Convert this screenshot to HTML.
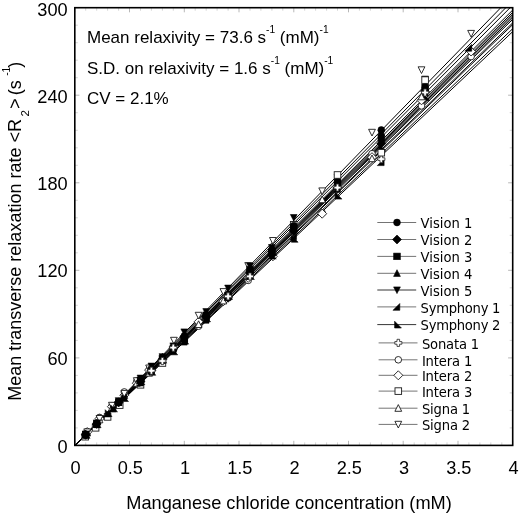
<!DOCTYPE html>
<html lang="en"><head><meta charset="utf-8"><title>Relaxation rate vs concentration</title>
<style>
html,body{margin:0;padding:0;background:#fff;}
body{width:520px;height:515px;overflow:hidden;}
svg{display:block;}
text{font-family:"Liberation Sans",Arial,Helvetica,sans-serif;fill:#000;}
.tk{font-size:18.2px;}
.ti{font-size:18.2px;}
.ty{font-size:18px;}
.an{font-size:17px;}
.lg{font-family:"DejaVu Sans Condensed","DejaVu Sans","Liberation Sans",sans-serif;font-size:14.6px;}
</style></head><body>
<svg width="520" height="515" viewBox="0 0 520 515">
<rect width="520" height="515" fill="#fff"/>
<defs><clipPath id="cp"><rect x="74.8" y="7.7" width="437.90000000000003" height="437.7"/></clipPath></defs>
<path d="M74.8,445.4v-4.6M74.8,7.7v4.6M129.5,445.4v-4.6M129.5,7.7v4.6M184.3,445.4v-4.6M184.3,7.7v4.6M239.0,445.4v-4.6M239.0,7.7v4.6M293.8,445.4v-4.6M293.8,7.7v4.6M348.5,445.4v-4.6M348.5,7.7v4.6M403.2,445.4v-4.6M403.2,7.7v4.6M458.0,445.4v-4.6M458.0,7.7v4.6M512.7,445.4v-4.6M512.7,7.7v4.6M74.8,445.4h4.6M512.7,445.4h-4.6M74.8,357.9h4.6M512.7,357.9h-4.6M74.8,270.3h4.6M512.7,270.3h-4.6M74.8,182.8h4.6M512.7,182.8h-4.6M74.8,95.2h4.6M512.7,95.2h-4.6M74.8,7.7h4.6M512.7,7.7h-4.6" stroke="#888" stroke-width="0.6" fill="none"/>
<path d="M85.7,445.4v-3M85.7,7.7v3M96.7,445.4v-3M96.7,7.7v3M107.6,445.4v-3M107.6,7.7v3M118.6,445.4v-3M118.6,7.7v3M140.5,445.4v-3M140.5,7.7v3M151.4,445.4v-3M151.4,7.7v3M162.4,445.4v-3M162.4,7.7v3M173.3,445.4v-3M173.3,7.7v3M195.2,445.4v-3M195.2,7.7v3M206.2,445.4v-3M206.2,7.7v3M217.1,445.4v-3M217.1,7.7v3M228.1,445.4v-3M228.1,7.7v3M250.0,445.4v-3M250.0,7.7v3M260.9,445.4v-3M260.9,7.7v3M271.9,445.4v-3M271.9,7.7v3M282.8,445.4v-3M282.8,7.7v3M304.7,445.4v-3M304.7,7.7v3M315.6,445.4v-3M315.6,7.7v3M326.6,445.4v-3M326.6,7.7v3M337.5,445.4v-3M337.5,7.7v3M359.4,445.4v-3M359.4,7.7v3M370.4,445.4v-3M370.4,7.7v3M381.3,445.4v-3M381.3,7.7v3M392.3,445.4v-3M392.3,7.7v3M414.2,445.4v-3M414.2,7.7v3M425.1,445.4v-3M425.1,7.7v3M436.1,445.4v-3M436.1,7.7v3M447.0,445.4v-3M447.0,7.7v3M468.9,445.4v-3M468.9,7.7v3M479.9,445.4v-3M479.9,7.7v3M490.8,445.4v-3M490.8,7.7v3M501.8,445.4v-3M501.8,7.7v3M74.8,427.9h3M512.7,427.9h-3M74.8,410.4h3M512.7,410.4h-3M74.8,392.9h3M512.7,392.9h-3M74.8,375.4h3M512.7,375.4h-3M74.8,340.4h3M512.7,340.4h-3M74.8,322.8h3M512.7,322.8h-3M74.8,305.3h3M512.7,305.3h-3M74.8,287.8h3M512.7,287.8h-3M74.8,252.8h3M512.7,252.8h-3M74.8,235.3h3M512.7,235.3h-3M74.8,217.8h3M512.7,217.8h-3M74.8,200.3h3M512.7,200.3h-3M74.8,165.3h3M512.7,165.3h-3M74.8,147.8h3M512.7,147.8h-3M74.8,130.3h3M512.7,130.3h-3M74.8,112.7h3M512.7,112.7h-3M74.8,77.7h3M512.7,77.7h-3M74.8,60.2h3M512.7,60.2h-3M74.8,42.7h3M512.7,42.7h-3M74.8,25.2h3M512.7,25.2h-3" stroke="#aaa" stroke-width="0.5" fill="none"/>
<g clip-path="url(#cp)">
<line x1="74.80" y1="445.40" x2="534.60" y2="-9.28" stroke="#000" stroke-width="1"/>
<line x1="74.80" y1="445.40" x2="534.60" y2="-5.61" stroke="#000" stroke-width="1"/>
<line x1="74.80" y1="445.40" x2="534.60" y2="-7.44" stroke="#000" stroke-width="1"/>
<line x1="74.80" y1="445.40" x2="534.60" y2="-11.73" stroke="#000" stroke-width="1"/>
<line x1="74.80" y1="445.40" x2="534.60" y2="-21.54" stroke="#000" stroke-width="1"/>
<line x1="74.80" y1="445.40" x2="534.60" y2="1.75" stroke="#000" stroke-width="1"/>
<line x1="74.80" y1="445.40" x2="534.60" y2="3.59" stroke="#000" stroke-width="1"/>
<line x1="74.80" y1="445.40" x2="534.60" y2="-3.77" stroke="#000" stroke-width="1"/>
<line x1="74.80" y1="445.40" x2="534.60" y2="10.94" stroke="#000" stroke-width="1"/>
<line x1="74.80" y1="445.40" x2="534.60" y2="7.88" stroke="#000" stroke-width="1"/>
<line x1="74.80" y1="445.40" x2="534.60" y2="-16.94" stroke="#000" stroke-width="1"/>
<line x1="74.80" y1="445.40" x2="534.60" y2="-1.93" stroke="#000" stroke-width="1"/>
<line x1="74.80" y1="445.40" x2="534.60" y2="-27.05" stroke="#000" stroke-width="1"/>
<circle cx="87.2" cy="431.6" r="3.30" fill="#fff" stroke="#1a1a1a" stroke-width="0.9"/>
<circle cx="99.5" cy="417.4" r="3.30" fill="#fff" stroke="#1a1a1a" stroke-width="0.9"/>
<circle cx="111.9" cy="405.8" r="3.30" fill="#fff" stroke="#1a1a1a" stroke-width="0.9"/>
<circle cx="124.3" cy="391.9" r="3.30" fill="#fff" stroke="#1a1a1a" stroke-width="0.9"/>
<circle cx="136.8" cy="381.1" r="3.30" fill="#fff" stroke="#1a1a1a" stroke-width="0.9"/>
<circle cx="149.1" cy="369.7" r="3.30" fill="#fff" stroke="#1a1a1a" stroke-width="0.9"/>
<circle cx="173.9" cy="346.8" r="3.30" fill="#fff" stroke="#1a1a1a" stroke-width="0.9"/>
<circle cx="198.6" cy="326.2" r="3.30" fill="#fff" stroke="#1a1a1a" stroke-width="0.9"/>
<circle cx="223.4" cy="301.0" r="3.30" fill="#fff" stroke="#1a1a1a" stroke-width="0.9"/>
<circle cx="248.2" cy="280.4" r="3.30" fill="#fff" stroke="#1a1a1a" stroke-width="0.9"/>
<circle cx="272.9" cy="253.7" r="3.30" fill="#fff" stroke="#1a1a1a" stroke-width="0.9"/>
<polygon points="82.7,432.1 87.2,427.6 91.7,432.1 87.2,436.6" fill="#fff" stroke="#1a1a1a" stroke-width="0.9"/>
<polygon points="95.0,418.7 99.5,414.2 104.0,418.7 99.5,423.2" fill="#fff" stroke="#1a1a1a" stroke-width="0.9"/>
<polygon points="107.4,406.7 111.9,402.2 116.4,406.7 111.9,411.2" fill="#fff" stroke="#1a1a1a" stroke-width="0.9"/>
<polygon points="119.8,395.2 124.3,390.7 128.8,395.2 124.3,399.7" fill="#fff" stroke="#1a1a1a" stroke-width="0.9"/>
<polygon points="132.3,383.2 136.8,378.7 141.3,383.2 136.8,387.7" fill="#fff" stroke="#1a1a1a" stroke-width="0.9"/>
<polygon points="144.6,370.1 149.1,365.6 153.6,370.1 149.1,374.6" fill="#fff" stroke="#1a1a1a" stroke-width="0.9"/>
<polygon points="169.4,346.8 173.9,342.3 178.4,346.8 173.9,351.3" fill="#fff" stroke="#1a1a1a" stroke-width="0.9"/>
<polygon points="194.1,321.8 198.6,317.3 203.1,321.8 198.6,326.3" fill="#fff" stroke="#1a1a1a" stroke-width="0.9"/>
<polygon points="218.9,301.2 223.4,296.7 227.9,301.2 223.4,305.7" fill="#fff" stroke="#1a1a1a" stroke-width="0.9"/>
<polygon points="243.7,277.9 248.2,273.4 252.7,277.9 248.2,282.4" fill="#fff" stroke="#1a1a1a" stroke-width="0.9"/>
<polygon points="268.4,256.3 272.9,251.8 277.4,256.3 272.9,260.8" fill="#fff" stroke="#1a1a1a" stroke-width="0.9"/>
<rect x="81.9" y="433.4" width="6.6" height="6.6" fill="#fff" stroke="#1a1a1a" stroke-width="0.9"/>
<rect x="92.3" y="424.5" width="6.6" height="6.6" fill="#fff" stroke="#1a1a1a" stroke-width="0.9"/>
<rect x="104.3" y="413.6" width="6.6" height="6.6" fill="#fff" stroke="#1a1a1a" stroke-width="0.9"/>
<rect x="116.4" y="401.8" width="6.6" height="6.6" fill="#fff" stroke="#1a1a1a" stroke-width="0.9"/>
<rect x="137.2" y="381.5" width="6.6" height="6.6" fill="#fff" stroke="#1a1a1a" stroke-width="0.9"/>
<rect x="159.1" y="359.7" width="6.6" height="6.6" fill="#fff" stroke="#1a1a1a" stroke-width="0.9"/>
<rect x="181.0" y="336.4" width="6.6" height="6.6" fill="#fff" stroke="#1a1a1a" stroke-width="0.9"/>
<rect x="202.9" y="313.7" width="6.6" height="6.6" fill="#fff" stroke="#1a1a1a" stroke-width="0.9"/>
<rect x="246.7" y="270.0" width="6.6" height="6.6" fill="#fff" stroke="#1a1a1a" stroke-width="0.9"/>
<rect x="290.4" y="221.5" width="6.6" height="6.6" fill="#fff" stroke="#1a1a1a" stroke-width="0.9"/>
<polygon points="83.8,435.9 90.6,435.9 87.2,429.2" fill="#fff" stroke="#1a1a1a" stroke-width="0.9"/>
<polygon points="96.1,422.8 102.9,422.8 99.5,416.1" fill="#fff" stroke="#1a1a1a" stroke-width="0.9"/>
<polygon points="108.5,410.8 115.3,410.8 111.9,404.1" fill="#fff" stroke="#1a1a1a" stroke-width="0.9"/>
<polygon points="120.9,398.4 127.7,398.4 124.3,391.7" fill="#fff" stroke="#1a1a1a" stroke-width="0.9"/>
<polygon points="133.4,386.3 140.2,386.3 136.8,379.6" fill="#fff" stroke="#1a1a1a" stroke-width="0.9"/>
<polygon points="145.7,376.2 152.5,376.2 149.1,369.5" fill="#fff" stroke="#1a1a1a" stroke-width="0.9"/>
<polygon points="170.5,350.0 177.3,350.0 173.9,343.3" fill="#fff" stroke="#1a1a1a" stroke-width="0.9"/>
<polygon points="195.2,327.5 202.0,327.5 198.6,320.8" fill="#fff" stroke="#1a1a1a" stroke-width="0.9"/>
<polygon points="220.0,303.9 226.8,303.9 223.4,297.2" fill="#fff" stroke="#1a1a1a" stroke-width="0.9"/>
<polygon points="244.8,279.5 251.6,279.5 248.2,272.8" fill="#fff" stroke="#1a1a1a" stroke-width="0.9"/>
<polygon points="269.5,253.3 276.3,253.3 272.9,246.6" fill="#fff" stroke="#1a1a1a" stroke-width="0.9"/>
<polygon points="83.8,428.9 90.6,428.9 87.2,435.6" fill="#fff" stroke="#1a1a1a" stroke-width="0.9"/>
<polygon points="96.1,415.5 102.9,415.5 99.5,422.2" fill="#fff" stroke="#1a1a1a" stroke-width="0.9"/>
<polygon points="108.5,402.3 115.3,402.3 111.9,409.0" fill="#fff" stroke="#1a1a1a" stroke-width="0.9"/>
<polygon points="120.9,390.4 127.7,390.4 124.3,397.1" fill="#fff" stroke="#1a1a1a" stroke-width="0.9"/>
<polygon points="133.4,377.7 140.2,377.7 136.8,384.4" fill="#fff" stroke="#1a1a1a" stroke-width="0.9"/>
<polygon points="145.7,365.0 152.5,365.0 149.1,371.7" fill="#fff" stroke="#1a1a1a" stroke-width="0.9"/>
<polygon points="170.5,337.3 177.3,337.3 173.9,344.0" fill="#fff" stroke="#1a1a1a" stroke-width="0.9"/>
<polygon points="195.2,312.3 202.0,312.3 198.6,319.0" fill="#fff" stroke="#1a1a1a" stroke-width="0.9"/>
<polygon points="220.0,288.6 226.8,288.6 223.4,295.3" fill="#fff" stroke="#1a1a1a" stroke-width="0.9"/>
<polygon points="244.8,262.6 251.6,262.6 248.2,269.3" fill="#fff" stroke="#1a1a1a" stroke-width="0.9"/>
<polygon points="269.5,237.5 276.3,237.5 272.9,244.2" fill="#fff" stroke="#1a1a1a" stroke-width="0.9"/>
<polygon points="84.4,431.1 87.0,431.1 87.0,433.4 89.3,433.4 89.3,436.0 87.0,436.0 87.0,438.2 84.4,438.2 84.4,436.0 82.2,436.0 82.2,433.4 84.4,433.4" fill="#fff" stroke="#2a2a2a" stroke-width="0.85"/>
<polygon points="95.4,420.4 98.0,420.4 98.0,422.6 100.2,422.6 100.2,425.2 98.0,425.2 98.0,427.5 95.4,427.5 95.4,425.2 93.1,425.2 93.1,422.6 95.4,422.6" fill="#fff" stroke="#2a2a2a" stroke-width="0.85"/>
<polygon points="117.3,398.7 119.9,398.7 119.9,401.0 122.1,401.0 122.1,403.6 119.9,403.6 119.9,405.8 117.3,405.8 117.3,403.6 115.0,403.6 115.0,401.0 117.3,401.0" fill="#fff" stroke="#2a2a2a" stroke-width="0.85"/>
<polygon points="139.2,378.0 141.8,378.0 141.8,380.2 144.0,380.2 144.0,382.8 141.8,382.8 141.8,385.1 139.2,385.1 139.2,382.8 136.9,382.8 136.9,380.2 139.2,380.2" fill="#fff" stroke="#2a2a2a" stroke-width="0.85"/>
<polygon points="183.0,333.4 185.6,333.4 185.6,335.6 187.8,335.6 187.8,338.2 185.6,338.2 185.6,340.5 183.0,340.5 183.0,338.2 180.7,338.2 180.7,335.6 183.0,335.6" fill="#fff" stroke="#2a2a2a" stroke-width="0.85"/>
<polygon points="204.9,313.7 207.5,313.7 207.5,316.0 209.7,316.0 209.7,318.6 207.5,318.6 207.5,320.8 204.9,320.8 204.9,318.6 202.6,318.6 202.6,316.0 204.9,316.0" fill="#fff" stroke="#2a2a2a" stroke-width="0.85"/>
<polygon points="270.6,249.0 273.2,249.0 273.2,251.3 275.4,251.3 275.4,253.9 273.2,253.9 273.2,256.1 270.6,256.1 270.6,253.9 268.3,253.9 268.3,251.3 270.6,251.3" fill="#fff" stroke="#2a2a2a" stroke-width="0.85"/>
<polygon points="292.4,227.5 295.1,227.5 295.1,229.8 297.3,229.8 297.3,232.4 295.1,232.4 295.1,234.6 292.4,234.6 292.4,232.4 290.2,232.4 290.2,229.8 292.4,229.8" fill="#fff" stroke="#2a2a2a" stroke-width="0.85"/>
<circle cx="85.7" cy="434.7" r="3.40" fill="#000" stroke="#000" stroke-width="0.6"/>
<circle cx="96.7" cy="423.7" r="3.40" fill="#000" stroke="#000" stroke-width="0.6"/>
<circle cx="118.6" cy="401.7" r="3.40" fill="#000" stroke="#000" stroke-width="0.6"/>
<circle cx="140.5" cy="380.8" r="3.40" fill="#000" stroke="#000" stroke-width="0.6"/>
<circle cx="151.4" cy="370.6" r="3.40" fill="#000" stroke="#000" stroke-width="0.6"/>
<circle cx="162.4" cy="358.9" r="3.40" fill="#000" stroke="#000" stroke-width="0.6"/>
<circle cx="173.3" cy="347.5" r="3.40" fill="#000" stroke="#000" stroke-width="0.6"/>
<circle cx="184.3" cy="336.0" r="3.40" fill="#000" stroke="#000" stroke-width="0.6"/>
<circle cx="206.2" cy="317.1" r="3.40" fill="#000" stroke="#000" stroke-width="0.6"/>
<circle cx="228.1" cy="295.8" r="3.40" fill="#000" stroke="#000" stroke-width="0.6"/>
<circle cx="250.0" cy="271.0" r="3.40" fill="#000" stroke="#000" stroke-width="0.6"/>
<circle cx="271.9" cy="249.6" r="3.40" fill="#000" stroke="#000" stroke-width="0.6"/>
<circle cx="293.8" cy="225.6" r="3.40" fill="#000" stroke="#000" stroke-width="0.6"/>
<polygon points="81.2,434.8 85.7,430.3 90.2,434.8 85.7,439.3" fill="#000" stroke="#000" stroke-width="0.6"/>
<polygon points="92.2,423.9 96.7,419.4 101.2,423.9 96.7,428.4" fill="#000" stroke="#000" stroke-width="0.6"/>
<polygon points="114.1,402.4 118.6,397.9 123.1,402.4 118.6,406.9" fill="#000" stroke="#000" stroke-width="0.6"/>
<polygon points="136.0,381.2 140.5,376.7 145.0,381.2 140.5,385.7" fill="#000" stroke="#000" stroke-width="0.6"/>
<polygon points="146.9,370.3 151.4,365.8 155.9,370.3 151.4,374.8" fill="#000" stroke="#000" stroke-width="0.6"/>
<polygon points="157.9,359.3 162.4,354.8 166.9,359.3 162.4,363.8" fill="#000" stroke="#000" stroke-width="0.6"/>
<polygon points="168.8,348.1 173.3,343.6 177.8,348.1 173.3,352.6" fill="#000" stroke="#000" stroke-width="0.6"/>
<polygon points="179.8,336.8 184.3,332.3 188.8,336.8 184.3,341.3" fill="#000" stroke="#000" stroke-width="0.6"/>
<polygon points="201.7,316.3 206.2,311.8 210.7,316.3 206.2,320.8" fill="#000" stroke="#000" stroke-width="0.6"/>
<polygon points="223.6,297.8 228.1,293.3 232.6,297.8 228.1,302.3" fill="#000" stroke="#000" stroke-width="0.6"/>
<polygon points="245.5,272.4 250.0,267.9 254.5,272.4 250.0,276.9" fill="#000" stroke="#000" stroke-width="0.6"/>
<polygon points="267.4,254.9 271.9,250.4 276.4,254.9 271.9,259.4" fill="#000" stroke="#000" stroke-width="0.6"/>
<polygon points="289.2,231.0 293.8,226.5 298.2,231.0 293.8,235.5" fill="#000" stroke="#000" stroke-width="0.6"/>
<rect x="82.4" y="431.2" width="6.6" height="6.6" fill="#000" stroke="#000" stroke-width="0.6"/>
<rect x="93.4" y="420.8" width="6.6" height="6.6" fill="#000" stroke="#000" stroke-width="0.6"/>
<rect x="115.3" y="399.1" width="6.6" height="6.6" fill="#000" stroke="#000" stroke-width="0.6"/>
<rect x="137.2" y="377.0" width="6.6" height="6.6" fill="#000" stroke="#000" stroke-width="0.6"/>
<rect x="148.1" y="366.7" width="6.6" height="6.6" fill="#000" stroke="#000" stroke-width="0.6"/>
<rect x="159.1" y="355.5" width="6.6" height="6.6" fill="#000" stroke="#000" stroke-width="0.6"/>
<rect x="170.0" y="345.0" width="6.6" height="6.6" fill="#000" stroke="#000" stroke-width="0.6"/>
<rect x="181.0" y="335.4" width="6.6" height="6.6" fill="#000" stroke="#000" stroke-width="0.6"/>
<rect x="202.9" y="312.0" width="6.6" height="6.6" fill="#000" stroke="#000" stroke-width="0.6"/>
<rect x="224.8" y="292.4" width="6.6" height="6.6" fill="#000" stroke="#000" stroke-width="0.6"/>
<rect x="246.7" y="266.4" width="6.6" height="6.6" fill="#000" stroke="#000" stroke-width="0.6"/>
<rect x="268.6" y="249.0" width="6.6" height="6.6" fill="#000" stroke="#000" stroke-width="0.6"/>
<rect x="290.4" y="225.0" width="6.6" height="6.6" fill="#000" stroke="#000" stroke-width="0.6"/>
<polygon points="82.3,437.5 89.1,437.5 85.7,430.8" fill="#000" stroke="#000" stroke-width="0.6"/>
<polygon points="93.3,426.7 100.1,426.7 96.7,420.0" fill="#000" stroke="#000" stroke-width="0.6"/>
<polygon points="115.2,405.3 122.0,405.3 118.6,398.6" fill="#000" stroke="#000" stroke-width="0.6"/>
<polygon points="137.1,382.7 143.9,382.7 140.5,376.0" fill="#000" stroke="#000" stroke-width="0.6"/>
<polygon points="148.0,372.0 154.8,372.0 151.4,365.3" fill="#000" stroke="#000" stroke-width="0.6"/>
<polygon points="159.0,360.0 165.8,360.0 162.4,353.3" fill="#000" stroke="#000" stroke-width="0.6"/>
<polygon points="169.9,350.9 176.7,350.9 173.3,344.2" fill="#000" stroke="#000" stroke-width="0.6"/>
<polygon points="180.9,339.1 187.7,339.1 184.3,332.4" fill="#000" stroke="#000" stroke-width="0.6"/>
<polygon points="202.8,317.2 209.6,317.2 206.2,310.5" fill="#000" stroke="#000" stroke-width="0.6"/>
<polygon points="224.7,295.7 231.5,295.7 228.1,289.0" fill="#000" stroke="#000" stroke-width="0.6"/>
<polygon points="246.6,274.0 253.4,274.0 250.0,267.3" fill="#000" stroke="#000" stroke-width="0.6"/>
<polygon points="268.5,252.2 275.3,252.2 271.9,245.5" fill="#000" stroke="#000" stroke-width="0.6"/>
<polygon points="290.4,232.1 297.1,232.1 293.8,225.4" fill="#000" stroke="#000" stroke-width="0.6"/>
<polygon points="82.3,431.1 89.1,431.1 85.7,437.8" fill="#000" stroke="#000" stroke-width="0.6"/>
<polygon points="93.3,419.9 100.1,419.9 96.7,426.6" fill="#000" stroke="#000" stroke-width="0.6"/>
<polygon points="115.2,397.7 122.0,397.7 118.6,404.4" fill="#000" stroke="#000" stroke-width="0.6"/>
<polygon points="137.1,375.1 143.9,375.1 140.5,381.8" fill="#000" stroke="#000" stroke-width="0.6"/>
<polygon points="148.0,363.1 154.8,363.1 151.4,369.8" fill="#000" stroke="#000" stroke-width="0.6"/>
<polygon points="159.0,353.7 165.8,353.7 162.4,360.4" fill="#000" stroke="#000" stroke-width="0.6"/>
<polygon points="169.9,342.9 176.7,342.9 173.3,349.6" fill="#000" stroke="#000" stroke-width="0.6"/>
<polygon points="180.9,328.9 187.7,328.9 184.3,335.6" fill="#000" stroke="#000" stroke-width="0.6"/>
<polygon points="202.8,308.6 209.6,308.6 206.2,315.3" fill="#000" stroke="#000" stroke-width="0.6"/>
<polygon points="224.7,285.1 231.5,285.1 228.1,291.8" fill="#000" stroke="#000" stroke-width="0.6"/>
<polygon points="246.6,262.9 253.4,262.9 250.0,269.6" fill="#000" stroke="#000" stroke-width="0.6"/>
<polygon points="268.5,244.5 275.3,244.5 271.9,251.2" fill="#000" stroke="#000" stroke-width="0.6"/>
<polygon points="290.4,214.5 297.1,214.5 293.8,221.2" fill="#000" stroke="#000" stroke-width="0.6"/>
<polygon points="81.7,438.2 88.5,438.2 88.5,431.4" fill="#000" stroke="#000" stroke-width="0.6"/>
<polygon points="92.7,427.4 99.5,427.4 99.5,420.6" fill="#000" stroke="#000" stroke-width="0.6"/>
<polygon points="103.6,416.9 110.4,416.9 110.4,410.1" fill="#000" stroke="#000" stroke-width="0.6"/>
<polygon points="109.1,411.8 115.9,411.8 115.9,405.0" fill="#000" stroke="#000" stroke-width="0.6"/>
<polygon points="120.1,400.6 126.9,400.6 126.9,393.8" fill="#000" stroke="#000" stroke-width="0.6"/>
<polygon points="136.5,385.9 143.3,385.9 143.3,379.1" fill="#000" stroke="#000" stroke-width="0.6"/>
<polygon points="147.4,374.3 154.2,374.3 154.2,367.5" fill="#000" stroke="#000" stroke-width="0.6"/>
<polygon points="158.4,363.4 165.2,363.4 165.2,356.6" fill="#000" stroke="#000" stroke-width="0.6"/>
<polygon points="169.3,354.0 176.1,354.0 176.1,347.2" fill="#000" stroke="#000" stroke-width="0.6"/>
<polygon points="180.3,345.1 187.1,345.1 187.1,338.3" fill="#000" stroke="#000" stroke-width="0.6"/>
<polygon points="202.2,323.2 209.0,323.2 209.0,316.4" fill="#000" stroke="#000" stroke-width="0.6"/>
<polygon points="224.1,300.6 230.9,300.6 230.9,293.8" fill="#000" stroke="#000" stroke-width="0.6"/>
<polygon points="246.0,278.9 252.8,278.9 252.8,272.1" fill="#000" stroke="#000" stroke-width="0.6"/>
<polygon points="267.9,255.7 274.7,255.7 274.7,248.9" fill="#000" stroke="#000" stroke-width="0.6"/>
<polygon points="289.8,239.7 296.5,239.7 296.5,232.9" fill="#000" stroke="#000" stroke-width="0.6"/>
<polygon points="83.3,438.3 90.1,438.3 83.3,431.5" fill="#000" stroke="#000" stroke-width="0.6"/>
<polygon points="94.3,427.7 101.1,427.7 94.3,420.9" fill="#000" stroke="#000" stroke-width="0.6"/>
<polygon points="105.2,416.5 112.0,416.5 105.2,409.7" fill="#000" stroke="#000" stroke-width="0.6"/>
<polygon points="110.7,411.8 117.5,411.8 110.7,405.0" fill="#000" stroke="#000" stroke-width="0.6"/>
<polygon points="121.7,401.4 128.5,401.4 121.7,394.6" fill="#000" stroke="#000" stroke-width="0.6"/>
<polygon points="138.1,384.7 144.9,384.7 138.1,377.9" fill="#000" stroke="#000" stroke-width="0.6"/>
<polygon points="149.0,375.2 155.8,375.2 149.0,368.4" fill="#000" stroke="#000" stroke-width="0.6"/>
<polygon points="160.0,363.1 166.8,363.1 160.0,356.3" fill="#000" stroke="#000" stroke-width="0.6"/>
<polygon points="170.9,354.8 177.7,354.8 170.9,348.0" fill="#000" stroke="#000" stroke-width="0.6"/>
<polygon points="181.9,344.1 188.7,344.1 181.9,337.3" fill="#000" stroke="#000" stroke-width="0.6"/>
<polygon points="203.8,321.7 210.6,321.7 203.8,314.9" fill="#000" stroke="#000" stroke-width="0.6"/>
<polygon points="225.7,299.4 232.5,299.4 225.7,292.6" fill="#000" stroke="#000" stroke-width="0.6"/>
<polygon points="247.6,279.4 254.4,279.4 247.6,272.6" fill="#000" stroke="#000" stroke-width="0.6"/>
<polygon points="269.5,258.9 276.3,258.9 269.5,252.1" fill="#000" stroke="#000" stroke-width="0.6"/>
<polygon points="291.4,242.2 298.1,242.2 291.4,235.4" fill="#000" stroke="#000" stroke-width="0.6"/>
<polygon points="150.1,367.2 152.7,367.2 152.7,369.4 155.0,369.4 155.0,372.0 152.7,372.0 152.7,374.3 150.1,374.3 150.1,372.0 147.9,372.0 147.9,369.4 150.1,369.4" fill="#fff" stroke="#2a2a2a" stroke-width="0.85"/>
<polygon points="161.1,357.5 163.7,357.5 163.7,359.7 165.9,359.7 165.9,362.3 163.7,362.3 163.7,364.6 161.1,364.6 161.1,362.3 158.8,362.3 158.8,359.7 161.1,359.7" fill="#fff" stroke="#2a2a2a" stroke-width="0.85"/>
<polygon points="172.0,344.1 174.6,344.1 174.6,346.3 176.9,346.3 176.9,348.9 174.6,348.9 174.6,351.2 172.0,351.2 172.0,348.9 169.8,348.9 169.8,346.3 172.0,346.3" fill="#fff" stroke="#2a2a2a" stroke-width="0.85"/>
<polygon points="226.8,292.8 229.4,292.8 229.4,295.1 231.6,295.1 231.6,297.7 229.4,297.7 229.4,299.9 226.8,299.9 226.8,297.7 224.5,297.7 224.5,295.1 226.8,295.1" fill="#fff" stroke="#2a2a2a" stroke-width="0.85"/>
<polygon points="248.7,272.9 251.3,272.9 251.3,275.1 253.5,275.1 253.5,277.7 251.3,277.7 251.3,280.0 248.7,280.0 248.7,277.7 246.4,277.7 246.4,275.1 248.7,275.1" fill="#fff" stroke="#2a2a2a" stroke-width="0.85"/>
<circle cx="337.5" cy="182.1" r="3.40" fill="#000" stroke="#000" stroke-width="0.6"/>
<circle cx="381.3" cy="130.0" r="3.40" fill="#000" stroke="#000" stroke-width="0.6"/>
<circle cx="425.1" cy="90.2" r="3.40" fill="#000" stroke="#000" stroke-width="0.6"/>
<polygon points="333.0,187.7 337.5,183.2 342.0,187.7 337.5,192.2" fill="#000" stroke="#000" stroke-width="0.6"/>
<polygon points="376.8,143.6 381.3,139.1 385.8,143.6 381.3,148.1" fill="#000" stroke="#000" stroke-width="0.6"/>
<polygon points="420.6,91.6 425.1,87.1 429.6,91.6 425.1,96.1" fill="#000" stroke="#000" stroke-width="0.6"/>
<rect x="334.2" y="178.9" width="6.6" height="6.6" fill="#000" stroke="#000" stroke-width="0.6"/>
<rect x="378.0" y="134.8" width="6.6" height="6.6" fill="#000" stroke="#000" stroke-width="0.6"/>
<rect x="421.8" y="84.1" width="6.6" height="6.6" fill="#000" stroke="#000" stroke-width="0.6"/>
<polygon points="334.1,189.1 340.9,189.1 337.5,182.4" fill="#000" stroke="#000" stroke-width="0.6"/>
<polygon points="377.9,135.5 384.7,135.5 381.3,128.8" fill="#000" stroke="#000" stroke-width="0.6"/>
<polygon points="421.7,87.6 428.5,87.6 425.1,80.9" fill="#000" stroke="#000" stroke-width="0.6"/>
<polygon points="334.1,174.6 340.9,174.6 337.5,181.3" fill="#000" stroke="#000" stroke-width="0.6"/>
<polygon points="377.9,130.3 384.7,130.3 381.3,137.0" fill="#000" stroke="#000" stroke-width="0.6"/>
<polygon points="421.7,76.1 428.5,76.1 425.1,82.8" fill="#000" stroke="#000" stroke-width="0.6"/>
<polygon points="333.5,192.3 340.3,192.3 340.3,185.5" fill="#000" stroke="#000" stroke-width="0.6"/>
<polygon points="377.3,165.6 384.1,165.6 384.1,158.8" fill="#000" stroke="#000" stroke-width="0.6"/>
<polygon points="421.1,95.9 427.9,95.9 427.9,89.1" fill="#000" stroke="#000" stroke-width="0.6"/>
<polygon points="335.1,199.1 341.9,199.1 335.1,192.3" fill="#000" stroke="#000" stroke-width="0.6"/>
<polygon points="378.9,151.1 385.7,151.1 378.9,144.3" fill="#000" stroke="#000" stroke-width="0.6"/>
<polygon points="422.7,100.5 429.5,100.5 422.7,93.7" fill="#000" stroke="#000" stroke-width="0.6"/>
<polygon points="336.2,184.0 338.8,184.0 338.8,186.3 341.1,186.3 341.1,188.9 338.8,188.9 338.8,191.1 336.2,191.1 336.2,188.9 334.0,188.9 334.0,186.3 336.2,186.3" fill="#fff" stroke="#2a2a2a" stroke-width="0.85"/>
<polygon points="380.0,155.6 382.6,155.6 382.6,157.8 384.9,157.8 384.9,160.4 382.6,160.4 382.6,162.7 380.0,162.7 380.0,160.4 377.8,160.4 377.8,157.8 380.0,157.8" fill="#fff" stroke="#2a2a2a" stroke-width="0.85"/>
<polygon points="423.8,89.0 426.4,89.0 426.4,91.2 428.7,91.2 428.7,93.8 426.4,93.8 426.4,96.1 423.8,96.1 423.8,93.8 421.6,93.8 421.6,91.2 423.8,91.2" fill="#fff" stroke="#2a2a2a" stroke-width="0.85"/>
<circle cx="322.2" cy="212.9" r="3.30" fill="#fff" stroke="#1a1a1a" stroke-width="0.9"/>
<circle cx="372.0" cy="153.7" r="3.30" fill="#fff" stroke="#1a1a1a" stroke-width="0.9"/>
<circle cx="421.5" cy="105.9" r="3.30" fill="#fff" stroke="#1a1a1a" stroke-width="0.9"/>
<circle cx="471.1" cy="56.6" r="3.30" fill="#fff" stroke="#1a1a1a" stroke-width="0.9"/>
<polygon points="317.7,213.7 322.2,209.2 326.7,213.7 322.2,218.2" fill="#fff" stroke="#1a1a1a" stroke-width="0.9"/>
<polygon points="367.5,157.2 372.0,152.7 376.5,157.2 372.0,161.7" fill="#fff" stroke="#1a1a1a" stroke-width="0.9"/>
<polygon points="417.0,100.3 421.5,95.8 426.0,100.3 421.5,104.8" fill="#fff" stroke="#1a1a1a" stroke-width="0.9"/>
<polygon points="466.6,51.5 471.1,47.0 475.6,51.5 471.1,56.0" fill="#fff" stroke="#1a1a1a" stroke-width="0.9"/>
<rect x="334.2" y="171.7" width="6.6" height="6.6" fill="#fff" stroke="#1a1a1a" stroke-width="0.9"/>
<rect x="378.0" y="149.4" width="6.6" height="6.6" fill="#fff" stroke="#1a1a1a" stroke-width="0.9"/>
<rect x="421.8" y="76.8" width="6.6" height="6.6" fill="#fff" stroke="#1a1a1a" stroke-width="0.9"/>
<polygon points="318.8,202.7 325.6,202.7 322.2,196.0" fill="#fff" stroke="#1a1a1a" stroke-width="0.9"/>
<polygon points="368.6,161.7 375.4,161.7 372.0,155.0" fill="#fff" stroke="#1a1a1a" stroke-width="0.9"/>
<polygon points="418.1,99.8 424.9,99.8 421.5,93.1" fill="#fff" stroke="#1a1a1a" stroke-width="0.9"/>
<polygon points="318.8,187.9 325.6,187.9 322.2,194.6" fill="#fff" stroke="#1a1a1a" stroke-width="0.9"/>
<polygon points="368.6,129.3 375.4,129.3 372.0,136.0" fill="#fff" stroke="#1a1a1a" stroke-width="0.9"/>
<polygon points="418.1,66.8 424.9,66.8 421.5,73.5" fill="#fff" stroke="#1a1a1a" stroke-width="0.9"/>
<polygon points="467.7,30.4 474.5,30.4 471.1,37.1" fill="#fff" stroke="#1a1a1a" stroke-width="0.9"/>
<polygon points="464.9,51.2 471.7,51.2 471.7,44.4" fill="#000" stroke="#000" stroke-width="0.6"/>
</g>
<rect x="74.8" y="7.7" width="437.90000000000003" height="437.7" fill="none" stroke="#000" stroke-width="1.6"/>
<line x1="377.3" y1="222.5" x2="416.2" y2="222.5" stroke="#000" stroke-width="0.55"/>
<circle cx="397.0" cy="222.5" r="3.40" fill="#000" stroke="#000" stroke-width="0.6"/>
<text x="420.6" y="228.2" class="lg" letter-spacing="0">Vision 1</text>
<line x1="377.3" y1="239.5" x2="416.2" y2="239.5" stroke="#000" stroke-width="0.55"/>
<polygon points="392.5,239.5 397.0,235.0 401.5,239.5 397.0,244.0" fill="#000" stroke="#000" stroke-width="0.6"/>
<text x="420.6" y="245.2" class="lg" letter-spacing="0">Vision 2</text>
<line x1="377.3" y1="256.4" x2="416.2" y2="256.4" stroke="#000" stroke-width="0.55"/>
<rect x="393.7" y="253.1" width="6.6" height="6.6" fill="#000" stroke="#000" stroke-width="0.6"/>
<text x="420.6" y="262.1" class="lg" letter-spacing="0">Vision 3</text>
<line x1="377.3" y1="273.3" x2="416.2" y2="273.3" stroke="#000" stroke-width="0.55"/>
<polygon points="393.6,276.4 400.4,276.4 397.0,269.7" fill="#000" stroke="#000" stroke-width="0.6"/>
<text x="420.6" y="279.0" class="lg" letter-spacing="0">Vision 4</text>
<line x1="377.3" y1="290.0" x2="416.2" y2="290.0" stroke="#000" stroke-width="0.8"/>
<polygon points="393.6,286.9 400.4,286.9 397.0,293.6" fill="#000" stroke="#000" stroke-width="0.6"/>
<text x="420.6" y="295.7" class="lg" letter-spacing="0">Vision 5</text>
<line x1="377.3" y1="306.9" x2="416.2" y2="306.9" stroke="#000" stroke-width="0.55"/>
<polygon points="393.0,310.3 399.8,310.3 399.8,303.5" fill="#000" stroke="#000" stroke-width="0.6"/>
<text x="420.6" y="312.6" class="lg" letter-spacing="-0.26">Symphony 1</text>
<line x1="377.3" y1="324.6" x2="416.2" y2="324.6" stroke="#000" stroke-width="0.8"/>
<polygon points="394.6,328.0 401.4,328.0 394.6,321.2" fill="#000" stroke="#000" stroke-width="0.6"/>
<text x="420.6" y="330.3" class="lg" letter-spacing="-0.26">Symphony 2</text>
<line x1="378.6" y1="342.9" x2="417.5" y2="342.9" stroke="#000" stroke-width="0.55"/>
<polygon points="397.0,339.3 399.6,339.3 399.6,341.6 401.9,341.6 401.9,344.2 399.6,344.2 399.6,346.4 397.0,346.4 397.0,344.2 394.8,344.2 394.8,341.6 397.0,341.6" fill="#fff" stroke="#2a2a2a" stroke-width="0.85"/>
<text x="421.9" y="348.6" class="lg" letter-spacing="-0.16">Sonata 1</text>
<line x1="378.6" y1="359.8" x2="417.5" y2="359.8" stroke="#000" stroke-width="0.55"/>
<circle cx="398.3" cy="359.8" r="3.30" fill="#fff" stroke="#1a1a1a" stroke-width="0.9"/>
<text x="421.9" y="365.5" class="lg" letter-spacing="-0.14">Intera 1</text>
<line x1="378.6" y1="375.3" x2="417.5" y2="375.3" stroke="#000" stroke-width="0.55"/>
<polygon points="393.8,375.3 398.3,370.8 402.8,375.3 398.3,379.8" fill="#fff" stroke="#1a1a1a" stroke-width="0.9"/>
<text x="421.9" y="381.0" class="lg" letter-spacing="-0.14">Intera 2</text>
<line x1="378.6" y1="391.1" x2="417.5" y2="391.1" stroke="#000" stroke-width="0.55"/>
<rect x="395.0" y="387.8" width="6.6" height="6.6" fill="#fff" stroke="#1a1a1a" stroke-width="0.9"/>
<text x="421.9" y="396.8" class="lg" letter-spacing="-0.14">Intera 3</text>
<line x1="378.6" y1="408.2" x2="417.5" y2="408.2" stroke="#000" stroke-width="0.55"/>
<polygon points="394.9,411.3 401.7,411.3 398.3,404.6" fill="#fff" stroke="#1a1a1a" stroke-width="0.9"/>
<text x="421.9" y="413.9" class="lg" letter-spacing="-0.16">Signa 1</text>
<line x1="378.6" y1="424.4" x2="417.5" y2="424.4" stroke="#000" stroke-width="0.55"/>
<polygon points="394.9,421.3 401.7,421.3 398.3,428.0" fill="#fff" stroke="#1a1a1a" stroke-width="0.9"/>
<text x="421.9" y="430.1" class="lg" letter-spacing="-0.16">Signa 2</text>
<text transform="translate(75.6,474.4)" class="tk" text-anchor="middle">0</text>
<text transform="translate(130.3,474.4)" class="tk" text-anchor="middle">0.5</text>
<text transform="translate(185.1,474.4)" class="tk" text-anchor="middle">1</text>
<text transform="translate(239.8,474.4)" class="tk" text-anchor="middle">1.5</text>
<text transform="translate(294.6,474.4)" class="tk" text-anchor="middle">2</text>
<text transform="translate(349.3,474.4)" class="tk" text-anchor="middle">2.5</text>
<text transform="translate(404.0,474.4)" class="tk" text-anchor="middle">3</text>
<text transform="translate(458.8,474.4)" class="tk" text-anchor="middle">3.5</text>
<text transform="translate(513.5,474.4)" class="tk" text-anchor="middle">4</text>
<text transform="translate(67.7,452.9)" class="tk" text-anchor="end">0</text>
<text transform="translate(67.7,364.9)" class="tk" text-anchor="end">60</text>
<text transform="translate(67.7,277.3)" class="tk" text-anchor="end">120</text>
<text transform="translate(67.7,189.9)" class="tk" text-anchor="end">180</text>
<text transform="translate(67.7,102.6)" class="tk" text-anchor="end">240</text>
<text transform="translate(67.7,15.7)" class="tk" text-anchor="end">300</text>
<text transform="translate(289,509.3)" class="ti" text-anchor="middle">Manganese chloride concentration (mM)</text>
<text transform="translate(21,400.7) rotate(-90)" class="ty">Mean transverse relaxation rate &lt;R<tspan dx="2.6" dy="8" font-size="11.5">2</tspan><tspan dx="1" dy="-8">&gt;</tspan><tspan dx="-1.8"> (s</tspan><tspan dx="4.5" dy="-11" font-size="10">-1</tspan><tspan dx="-0.8" dy="11">)</tspan></text>
<text transform="translate(87,42.5)" class="an">Mean relaxivity = 73.6 s<tspan dy="-9.5" font-size="10.2">-1</tspan><tspan dy="9.5"> (mM)</tspan><tspan dy="-9.5" font-size="10.2">-1</tspan></text>
<text transform="translate(87,73.5)" class="an">S.D. on relaxivity = 1.6 s<tspan dy="-9.5" font-size="10.2">-1</tspan><tspan dy="9.5"> (mM)</tspan><tspan dy="-9.5" font-size="10.2">-1</tspan></text>
<text transform="translate(87,103.8)" class="an">CV = 2.1%</text>
</svg>
</body></html>
